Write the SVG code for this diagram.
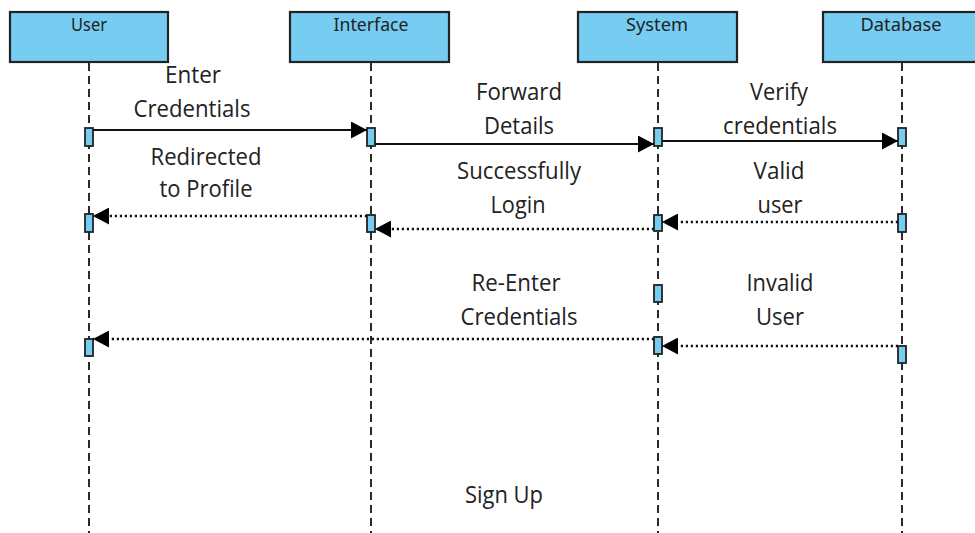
<svg xmlns="http://www.w3.org/2000/svg" width="975" height="533" viewBox="0 0 975 533">
<defs>
<style>
.hdr{fill:#77CCF2;stroke:#222;stroke-width:2.2}
.ht{font-family:"Noto Sans","Open Sans",sans-serif;font-size:18px;fill:#222;text-anchor:middle}
.life{stroke:#2a2a2a;stroke-width:2;stroke-dasharray:8 5;fill:none}
.act{fill:#77CCF2;stroke:#222;stroke-width:1.8}
.sync{stroke:#111;stroke-width:2;fill:none}
.ret{stroke:#111;stroke-width:2.3;stroke-dasharray:2.2 2.8;fill:none}
.lbl{font-family:"Open Sans","Noto Sans",sans-serif;font-size:23px;fill:#222;text-anchor:middle}
</style>
<marker id="ah" markerWidth="17" markerHeight="17" refX="16" refY="8.5" orient="auto" markerUnits="userSpaceOnUse">
<path d="M0,0 L16,8.5 L0,17 Z" fill="#000"/>
</marker>
</defs>
<rect width="975" height="533" fill="#fff"/>

<g id="user">
<rect class="hdr" x="10" y="12" width="158" height="50"/>
<text class="ht" x="89" y="31" textLength="36" lengthAdjust="spacingAndGlyphs">User</text>
<line class="life" x1="89" y1="63" x2="89" y2="533"/>
</g>
<g id="interface">
<rect class="hdr" x="290" y="12" width="159" height="50"/>
<text class="ht" x="371" y="31" textLength="75" lengthAdjust="spacingAndGlyphs">Interface</text>
<line class="life" x1="371" y1="63" x2="371" y2="533"/>
</g>
<g id="system">
<rect class="hdr" x="578" y="12" width="159" height="50"/>
<text class="ht" x="657" y="31" textLength="62" lengthAdjust="spacingAndGlyphs">System</text>
<line class="life" x1="658" y1="63" x2="658" y2="533"/>
</g>
<g id="database">
<rect class="hdr" x="823" y="12" width="159" height="50"/>
<text class="ht" x="901" y="31" textLength="81" lengthAdjust="spacingAndGlyphs">Database</text>
<line class="life" x1="902" y1="63" x2="902" y2="533"/>
</g>

<g id="activations">
<rect class="act" x="85" y="128" width="8" height="18"/>
<rect class="act" x="85" y="214" width="8" height="18"/>
<rect class="act" x="85" y="339" width="8" height="17"/>
<rect class="act" x="367" y="128" width="8" height="18"/>
<rect class="act" x="367" y="215" width="8" height="17"/>
<rect class="act" x="654" y="128" width="8" height="18"/>
<rect class="act" x="654" y="215" width="8" height="16"/>
<rect class="act" x="654" y="285" width="8" height="17"/>
<rect class="act" x="654" y="337" width="8" height="17"/>
<rect class="act" x="898" y="128" width="8" height="18"/>
<rect class="act" x="898" y="214" width="8" height="18"/>
<rect class="act" x="898" y="346" width="8" height="17"/>
</g>

<g id="connectors">
<line class="sync" x1="93" y1="130" x2="367" y2="130" marker-end="url(#ah)"/>
<line class="sync" x1="375" y1="144" x2="654" y2="144" marker-end="url(#ah)"/>
<line class="sync" x1="662" y1="141" x2="898" y2="141" marker-end="url(#ah)"/>
<line class="ret" x1="367" y1="216" x2="93" y2="216" marker-end="url(#ah)"/>
<line class="ret" x1="654" y1="229" x2="375" y2="229" marker-end="url(#ah)"/>
<line class="ret" x1="898" y1="222" x2="662" y2="222" marker-end="url(#ah)"/>
<line class="ret" x1="654" y1="339" x2="93" y2="339" marker-end="url(#ah)"/>
<line class="ret" x1="898" y1="346" x2="662" y2="346" marker-end="url(#ah)"/>
</g>

<g id="labels">
<text class="lbl" x="193" y="83" textLength="56" lengthAdjust="spacingAndGlyphs">Enter</text>
<text class="lbl" x="192" y="117" textLength="117" lengthAdjust="spacingAndGlyphs">Credentials</text>
<text class="lbl" x="519" y="100" textLength="86" lengthAdjust="spacingAndGlyphs">Forward</text>
<text class="lbl" x="519" y="134" textLength="70" lengthAdjust="spacingAndGlyphs">Details</text>
<text class="lbl" x="779" y="100" textLength="58" lengthAdjust="spacingAndGlyphs">Verify</text>
<text class="lbl" x="780" y="134" textLength="114" lengthAdjust="spacingAndGlyphs">credentials</text>
<text class="lbl" x="206" y="165" textLength="111" lengthAdjust="spacingAndGlyphs">Redirected</text>
<text class="lbl" x="206" y="197" textLength="93" lengthAdjust="spacingAndGlyphs">to Profile</text>
<text class="lbl" x="519" y="179" textLength="124" lengthAdjust="spacingAndGlyphs">Successfully</text>
<text class="lbl" x="518" y="213" textLength="55" lengthAdjust="spacingAndGlyphs">Login</text>
<text class="lbl" x="779" y="179" textLength="51" lengthAdjust="spacingAndGlyphs">Valid</text>
<text class="lbl" x="780" y="213" textLength="45" lengthAdjust="spacingAndGlyphs">user</text>
<text class="lbl" x="516" y="291" textLength="89" lengthAdjust="spacingAndGlyphs">Re-Enter</text>
<text class="lbl" x="519" y="325" textLength="117" lengthAdjust="spacingAndGlyphs">Credentials</text>
<text class="lbl" x="780" y="291" textLength="67" lengthAdjust="spacingAndGlyphs">Invalid</text>
<text class="lbl" x="780" y="325" textLength="48" lengthAdjust="spacingAndGlyphs">User</text>
<text class="lbl" x="504" y="503" textLength="78" lengthAdjust="spacingAndGlyphs">Sign Up</text>
</g>
</svg>
